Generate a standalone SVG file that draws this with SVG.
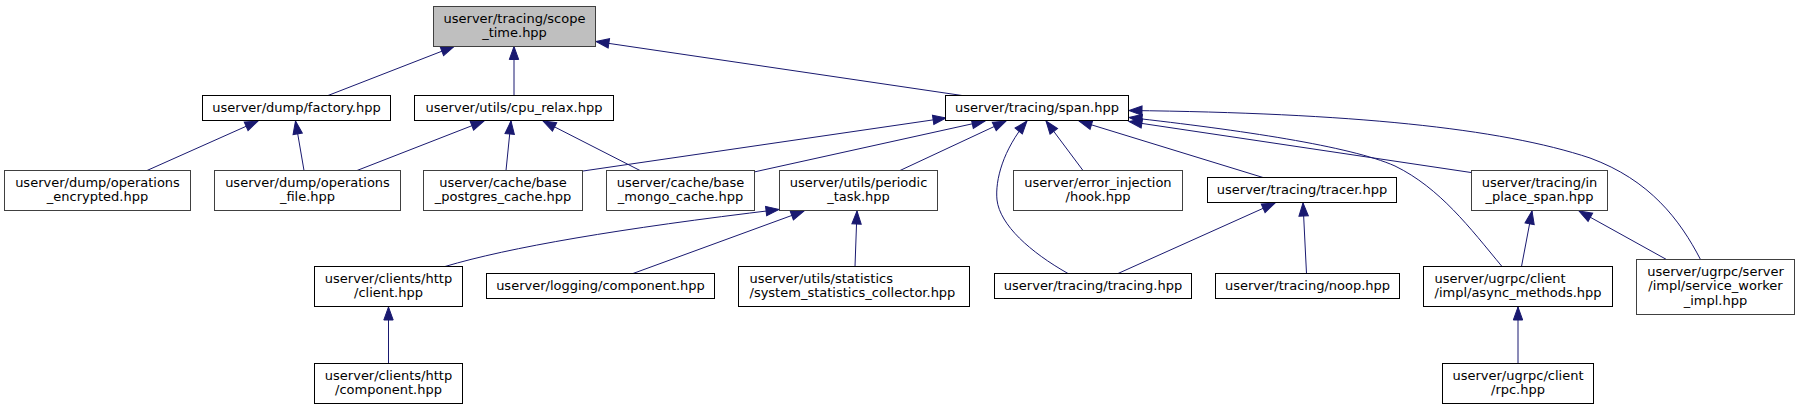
<svg xmlns="http://www.w3.org/2000/svg" width="1799" height="409" viewBox="0 0 1799 409">
<style>
.n rect{fill:#ffffff;stroke:#000000;stroke-width:1}
.n.g rect{stroke:#404040}
.n.root rect{fill:#bfbfbf;stroke:#404040}
.n text{font-family:"DejaVu Sans",sans-serif;font-size:13px;fill:#000000;text-anchor:middle}
.n text.l{text-anchor:start}
#edges path{fill:none;stroke:#191970;stroke-width:1;marker-end:url(#ah)}
</style>
<defs>
<marker id="ah" markerWidth="14" markerHeight="10" refX="13" refY="4.7" orient="auto" markerUnits="userSpaceOnUse" overflow="visible">
<path d="M0,0 L13,4.7 L0,9.4 z" fill="#191970" stroke="#191970" stroke-width="1"/>
</marker>
</defs>
<rect x="0" y="0" width="1799" height="409" fill="#ffffff"/>
<g id="edges">
<path d="M328,95.5 L454,46.5"/>
<path d="M514,95.5 L514,46.5"/>
<path d="M962,95.5 L596,41.5"/>
<path d="M147,170.5 L258,121"/>
<path d="M304,170.5 L295.5,121"/>
<path d="M357,170.5 L484,121"/>
<path d="M506,170.5 L511,121"/>
<path d="M640,170.5 L543,121"/>
<path d="M583,171 L946,118"/>
<path d="M754,172 L985,121"/>
<path d="M900,170.5 L1006,121"/>
<path d="M1068,273.5 C1030,252 1000,225 997,200 C995,180 1003,150 1027,121"/>
<path d="M1083,170.5 L1046,121"/>
<path d="M1263,177.5 L1079,121"/>
<path d="M1700.5,259.5 C1680,220 1650,180 1590,158 C1500,128 1350,113 1129,110.5"/>
<path d="M1502,266.5 C1470,228 1440,188 1395,166 C1350,146 1240,130 1129,117.5"/>
<path d="M1471,172.5 L1129,121.5"/>
<path d="M445,266.5 Q540,238 779,209.5"/>
<path d="M633,273.5 L804,211"/>
<path d="M855,266.5 L857,211"/>
<path d="M388.5,363.5 L388.5,307"/>
<path d="M1118,273.5 L1275,203"/>
<path d="M1306.5,273.5 L1303,203"/>
<path d="M1521.5,266.5 L1532,211"/>
<path d="M1666.5,259.5 L1579,211"/>
<path d="M1518,363.5 L1518,307"/>
</g>
<g id="scope_time" class="n root"><rect x="433.5" y="6.5" width="162" height="40"/><text x="514.5" y="22.5">userver/tracing/scope</text><text x="514.5" y="37.2">_time.hpp</text></g>
<g id="factory" class="n"><rect x="202.5" y="95.5" width="188" height="25"/><text x="296.5" y="111.5">userver/dump/factory.hpp</text></g>
<g id="cpu_relax" class="n"><rect x="414.5" y="95.5" width="199" height="25"/><text x="514" y="111.5">userver/utils/cpu_relax.hpp</text></g>
<g id="span" class="n"><rect x="945.5" y="95.5" width="183" height="25"/><text x="1037" y="111.5">userver/tracing/span.hpp</text></g>
<g id="operations_encrypted" class="n g"><rect x="4.5" y="170.5" width="186" height="40"/><text x="97.5" y="186.5">userver/dump/operations</text><text x="97.5" y="201.2">_encrypted.hpp</text></g>
<g id="operations_file" class="n g"><rect x="214.5" y="170.5" width="186" height="40"/><text x="307.5" y="186.5">userver/dump/operations</text><text x="307.5" y="201.2">_file.hpp</text></g>
<g id="base_postgres_cache" class="n g"><rect x="423.5" y="170.5" width="159" height="40"/><text x="503" y="186.5">userver/cache/base</text><text x="503" y="201.2">_postgres_cache.hpp</text></g>
<g id="base_mongo_cache" class="n g"><rect x="606.5" y="170.5" width="148" height="40"/><text x="680.5" y="186.5">userver/cache/base</text><text x="680.5" y="201.2">_mongo_cache.hpp</text></g>
<g id="periodic_task" class="n g"><rect x="779.5" y="170.5" width="158" height="40"/><text x="858.5" y="186.5">userver/utils/periodic</text><text x="858.5" y="201.2">_task.hpp</text></g>
<g id="hook" class="n g"><rect x="1013.5" y="170.5" width="169" height="40"/><text x="1098" y="186.5">userver/error_injection</text><text x="1098" y="201.2">/hook.hpp</text></g>
<g id="tracer" class="n"><rect x="1207.5" y="177.5" width="189" height="25"/><text x="1302" y="193.5">userver/tracing/tracer.hpp</text></g>
<g id="in_place_span" class="n g"><rect x="1471.5" y="170.5" width="136" height="40"/><text x="1539.5" y="186.5">userver/tracing/in</text><text x="1539.5" y="201.2">_place_span.hpp</text></g>
<g id="http_client" class="n"><rect x="314.5" y="266.5" width="148" height="40"/><text x="388.5" y="282.5">userver/clients/http</text><text x="388.5" y="297.2">/client.hpp</text></g>
<g id="logging_component" class="n"><rect x="486.5" y="273.5" width="228" height="25"/><text x="600.5" y="289.5">userver/logging/component.hpp</text></g>
<g id="system_statistics_collector" class="n"><rect x="738.5" y="266.5" width="231" height="40"/><text class="l" x="749.5" y="282.5">userver/utils/statistics</text><text class="l" x="749.5" y="297.2">/system_statistics_collector.hpp</text></g>
<g id="tracing" class="n"><rect x="994.5" y="273.5" width="197" height="25"/><text x="1093" y="289.5">userver/tracing/tracing.hpp</text></g>
<g id="noop" class="n"><rect x="1215.5" y="273.5" width="184" height="25"/><text x="1307.5" y="289.5">userver/tracing/noop.hpp</text></g>
<g id="async_methods" class="n"><rect x="1423.5" y="266.5" width="189" height="40"/><text class="l" x="1434.5" y="282.5">userver/ugrpc/client</text><text class="l" x="1434.5" y="297.2">/impl/async_methods.hpp</text></g>
<g id="service_worker_impl" class="n g"><rect x="1636.5" y="259.5" width="158" height="55"/><text x="1715.5" y="275.5">userver/ugrpc/server</text><text x="1715.5" y="290.2">/impl/service_worker</text><text x="1715.5" y="304.8">_impl.hpp</text></g>
<g id="http_component" class="n"><rect x="314.5" y="363.5" width="148" height="40"/><text x="388.5" y="379.5">userver/clients/http</text><text x="388.5" y="394.2">/component.hpp</text></g>
<g id="rpc" class="n"><rect x="1442.5" y="363.5" width="151" height="40"/><text x="1518" y="379.5">userver/ugrpc/client</text><text x="1518" y="394.2">/rpc.hpp</text></g>
</svg>
